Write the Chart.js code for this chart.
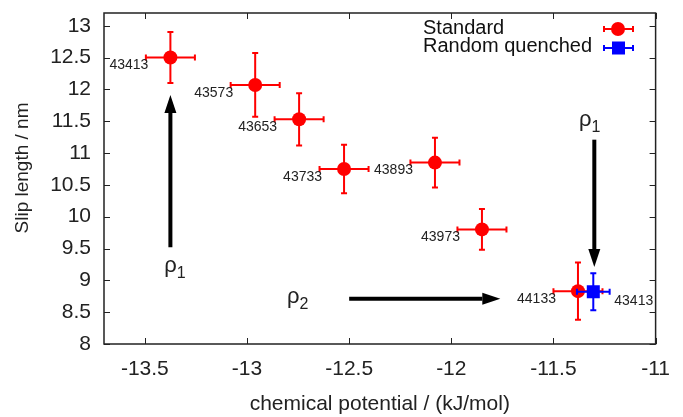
<!DOCTYPE html>
<html>
<head>
<meta charset="utf-8">
<script src="https://cdn.jsdelivr.net/npm/chart.js@4"></script>
<style>
  html, body { margin: 0; padding: 0; background: #fff; }
  #wrap { width: 683px; height: 417px; }
</style>
</head>
<body>
<div id="wrap"><canvas id="ch1" width="683" height="417"></canvas></div>
<script>
// values
var chemPot = [-13.375, -12.96, -12.745, -12.525, -12.08, -11.85, -11.38];
var slipLen = [12.5, 12.07, 11.53, 10.75, 10.85, 9.8, 8.83];
var chemPotErr = [0.12, 0.12, 0.12, 0.12, 0.12, 0.12, 0.12];
var slipLenErr = [0.4, 0.5, 0.41, 0.38, 0.39, 0.32, 0.45];
var stdLabels = ['43413', '43573', '43653', '43733', '43893', '43973', '44133'];

var rqChemPot = [-11.305];
var rqSlipLen = [8.82];
var rqChemPotErr = [0.08];
var rqSlipLenErr = [0.29];
var rqLabels = ['43413'];

var xTicks = [-13.5, -13, -12.5, -12, -11.5, -11];
var yTicks = [8, 8.5, 9, 9.5, 10, 10.5, 11, 11.5, 12, 12.5, 13];

// arrows (data coords) and the rho labels next to them
var arrowFrom = [[-13.375, 9.52], [-12.5, 8.71], [-11.3, 11.21]];
var arrowTo = [[-13.375, 11.91], [-11.76, 8.71], [-11.3, 9.21]];
var rhoSub = ['1', '2', '1'];
var rhoAt = [[-13.344, 9.16], [-12.743, 8.68], [-11.314, 11.46]];

var FONT = "'Liberation Sans', Arial, sans-serif";
Chart.defaults.font.family = FONT;
Chart.defaults.color = '#222';

function errBars(ctx, sx, sy, xs, ys, exs, eys, color) {
  ctx.save();
  ctx.strokeStyle = color;
  ctx.lineWidth = 2;
  var c = 3;
  for (var i = 0; i < xs.length; i++) {
    var px = sx.getPixelForValue(xs[i]), py = sy.getPixelForValue(ys[i]);
    var x0 = sx.getPixelForValue(xs[i] - exs[i]), x1 = sx.getPixelForValue(xs[i] + exs[i]);
    var y0 = sy.getPixelForValue(ys[i] - eys[i]), y1 = sy.getPixelForValue(ys[i] + eys[i]);
    ctx.beginPath();
    ctx.moveTo(x0, py); ctx.lineTo(x1, py);
    ctx.moveTo(px, y0); ctx.lineTo(px, y1);
    ctx.moveTo(x0, py - c); ctx.lineTo(x0, py + c);
    ctx.moveTo(x1, py - c); ctx.lineTo(x1, py + c);
    ctx.moveTo(px - c, y0); ctx.lineTo(px + c, y0);
    ctx.moveTo(px - c, y1); ctx.lineTo(px + c, y1);
    ctx.stroke();
  }
  ctx.restore();
}

function arrow(ctx, x0, y0, x1, y1) {
  var ang = Math.atan2(y1 - y0, x1 - x0);
  var hl = 18, hw = 6;
  var bx = x1 - hl * Math.cos(ang), by = y1 - hl * Math.sin(ang);
  ctx.beginPath();
  ctx.moveTo(x0, y0); ctx.lineTo(bx, by);
  ctx.stroke();
  ctx.beginPath();
  ctx.moveTo(x1, y1);
  ctx.lineTo(bx + hw * Math.sin(ang), by - hw * Math.cos(ang));
  ctx.lineTo(bx - hw * Math.sin(ang), by + hw * Math.cos(ang));
  ctx.closePath();
  ctx.fill();
}

var extras = {
  id: 'extras',
  beforeDatasetDraw: function(chart, args) {
    var ctx = chart.ctx, sx = chart.scales.x, sy = chart.scales.y;
    if (args.index === 0) errBars(ctx, sx, sy, chemPot, slipLen, chemPotErr, slipLenErr, '#ff0000');
    if (args.index === 1) errBars(ctx, sx, sy, rqChemPot, rqSlipLen, rqChemPotErr, rqSlipLenErr, '#0000ff');
  },
  afterDatasetsDraw: function(chart) {
    var ctx = chart.ctx, sx = chart.scales.x, sy = chart.scales.y, a = chart.chartArea;
    ctx.save();
    // point labels
    ctx.fillStyle = '#222';
    ctx.font = '14px ' + FONT;
    ctx.textBaseline = 'middle';
    ctx.textAlign = 'right';
    for (var i = 0; i < chemPot.length; i++) {
      ctx.fillText(stdLabels[i], sx.getPixelForValue(chemPot[i]) - 22, sy.getPixelForValue(slipLen[i]) + 8);
    }
    ctx.textAlign = 'left';
    for (var j = 0; j < rqChemPot.length; j++) {
      ctx.fillText(rqLabels[j], sx.getPixelForValue(rqChemPot[j]) + 21, sy.getPixelForValue(rqSlipLen[j]) + 9);
    }
    // arrows
    ctx.strokeStyle = '#000';
    ctx.fillStyle = '#000';
    ctx.lineWidth = 4;
    for (var k = 0; k < arrowFrom.length; k++) {
      arrow(ctx, sx.getPixelForValue(arrowFrom[k][0]), sy.getPixelForValue(arrowFrom[k][1]),
        sx.getPixelForValue(arrowTo[k][0]), sy.getPixelForValue(arrowTo[k][1]));
    }
    // rho labels
    ctx.fillStyle = '#222';
    for (var r = 0; r < rhoAt.length; r++) {
      var rx = sx.getPixelForValue(rhoAt[r][0]), ry = sy.getPixelForValue(rhoAt[r][1]);
      ctx.font = '22px ' + FONT;
      ctx.textAlign = 'right';
      ctx.textBaseline = 'alphabetic';
      ctx.fillText('\u03c1', rx, ry + 2);
      ctx.font = '16px ' + FONT;
      ctx.textAlign = 'left';
      ctx.fillText(rhoSub[r], rx, ry + 8);
    }
    // frame and inward ticks on all sides
    ctx.strokeStyle = '#222';
    ctx.lineWidth = 1.5;
    ctx.strokeRect(a.left, a.top, a.right - a.left, a.bottom - a.top);
    ctx.lineWidth = 1;
    ctx.beginPath();
    xTicks.forEach(function(v) {
      var p = Math.round(sx.getPixelForValue(v)) + 0.5;
      ctx.moveTo(p, a.bottom); ctx.lineTo(p, a.bottom - 6);
      ctx.moveTo(p, a.top); ctx.lineTo(p, a.top + 6);
    });
    yTicks.forEach(function(v) {
      var p = Math.round(sy.getPixelForValue(v)) + 0.5;
      ctx.moveTo(a.left, p); ctx.lineTo(a.left + 6, p);
      ctx.moveTo(a.right, p); ctx.lineTo(a.right - 6, p);
    });
    ctx.stroke();
    // y axis title
    ctx.save();
    ctx.translate(23, 168);
    ctx.rotate(-Math.PI / 2);
    ctx.font = '19px ' + FONT;
    ctx.fillStyle = '#222';
    ctx.textAlign = 'center';
    ctx.textBaseline = 'middle';
    ctx.fillText('Slip length / nm', 0, 0);
    ctx.restore();
    // key, top right
    ctx.font = '20px ' + FONT;
    ctx.fillStyle = '#111';
    ctx.textAlign = 'left';
    ctx.textBaseline = 'middle';
    ctx.fillText('Standard', 423, 28);
    ctx.fillText('Random quenched', 423, 46);
    ctx.lineWidth = 2;
    [['#ff0000', 29], ['#0000ff', 48]].forEach(function(k, n) {
      ctx.strokeStyle = k[0];
      ctx.fillStyle = k[0];
      ctx.beginPath();
      ctx.moveTo(604, k[1]); ctx.lineTo(633, k[1]);
      ctx.moveTo(604, k[1] - 3); ctx.lineTo(604, k[1] + 3);
      ctx.moveTo(633, k[1] - 3); ctx.lineTo(633, k[1] + 3);
      ctx.stroke();
      if (n === 0) {
        ctx.beginPath(); ctx.arc(618, k[1], 7, 0, Math.PI * 2); ctx.fill();
      } else {
        ctx.fillRect(612, k[1] - 6.5, 13, 13);
      }
    });
    ctx.restore();
  }
};

var slip = document.getElementById('ch1').getContext('2d');
var myChart = new Chart(slip, {
  type: 'scatter',
  data: {
    datasets: [{
      label: 'Standard',
      data: chemPot.map(function(x, i) { return {x: x, y: slipLen[i]}; }),
      backgroundColor: '#ff0000',
      borderColor: '#ff0000',
      pointStyle: 'circle',
      pointRadius: 7,
      pointBorderWidth: 0,
      order: 2
    }, {
      label: 'Random quenched',
      data: rqChemPot.map(function(x, i) { return {x: x, y: rqSlipLen[i]}; }),
      backgroundColor: '#0000ff',
      borderColor: '#0000ff',
      pointStyle: 'rect',
      pointRadius: 9.2,
      pointBorderWidth: 0,
      order: 1
    }]
  },
  options: {
    responsive: false,
    animation: false,
    layout: { padding: { top: 0, right: 26, left: 0, bottom: 0 } },
    plugins: { legend: { display: false }, tooltip: { enabled: false } },
    scales: {
      x: {
        type: 'linear',
        min: -13.7,
        max: -11,
        afterBuildTicks: function(s) { s.ticks = xTicks.map(function(v) { return {value: v}; }); },
        afterFit: function(s) { s.height = 73; },
        grid: { display: false, drawTicks: false },
        border: { display: false },
        ticks: { padding: 13, font: { size: 21 }, color: '#222', callback: function(v) { return String(v); } },
        title: { display: true, text: 'chemical potential / (kJ/mol)', font: { size: 21 }, color: '#222', padding: { top: 0, bottom: 0 } }
      },
      y: {
        type: 'linear',
        min: 8,
        max: 13.2,
        afterBuildTicks: function(s) { s.ticks = yTicks.map(function(v) { return {value: v}; }); },
        afterFit: function(s) { s.width = 104; s.paddingTop = 13; s.paddingBottom = 0; },
        grid: { display: false, drawTicks: false },
        border: { display: false },
        ticks: { padding: 13, font: { size: 21 }, color: '#222', callback: function(v) { return String(v); } }
      }
    }
  },
  plugins: [extras]
});
</script>
</body>
</html>
